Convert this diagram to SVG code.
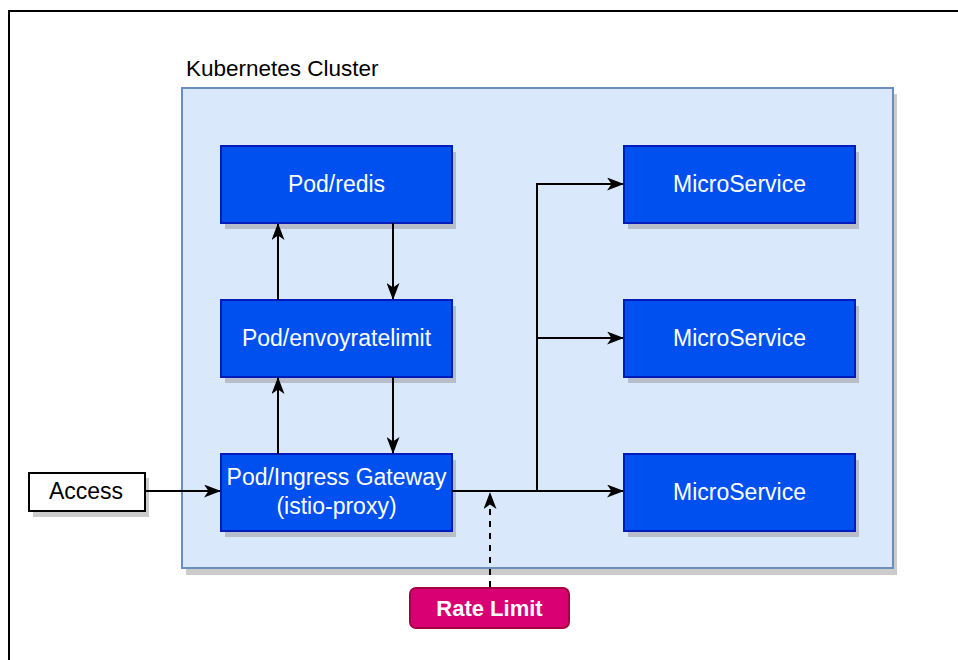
<svg xmlns="http://www.w3.org/2000/svg" width="958" height="660" viewBox="0 0 958 660">
<defs>
<style>
text{font-family:"Liberation Sans",Arial,sans-serif;font-size:23px;text-anchor:middle}
.box{fill:#0050ef;stroke:#001dbc;stroke-width:2}
.shadow{fill:#8c8c8c;opacity:0.45}
.wt{fill:#ffffff}
.conn{fill:none;stroke:#000;stroke-width:2}
</style>
<marker id="arr" viewBox="0 0 17 13" refX="16" refY="6.5" markerWidth="17" markerHeight="13" markerUnits="userSpaceOnUse" orient="auto">
<path d="M0,0 L17,6.5 L0,13 L4.5,6.5 Z" fill="#000"/>
</marker>
</defs>
<rect width="958" height="660" fill="#fff"/>
<rect x="9" y="11" width="1000" height="700" fill="none" stroke="#000" stroke-width="2"/>
<g id="cluster">
<rect x="186" y="94" width="711" height="481" class="shadow"/>
<rect x="182" y="88" width="711" height="480" fill="#dae8fc" stroke="#6c8ebf" stroke-width="2"/>
<text x="186" y="76" style="text-anchor:start;font-size:22.5px">Kubernetes Cluster</text>
</g>
<g id="redis">
<rect x="225" y="152" width="231" height="77" class="shadow"/>
<rect x="221" y="146" width="231" height="77" class="box"/>
<text x="336.5" y="192" class="wt">Pod/redis</text>
</g>
<g id="envoy">
<rect x="225" y="306" width="231" height="77" class="shadow"/>
<rect x="221" y="300" width="231" height="77" class="box"/>
<text x="336.5" y="346" class="wt">Pod/envoyratelimit</text>
</g>
<g id="ingress">
<rect x="225" y="460" width="231" height="77" class="shadow"/>
<rect x="221" y="454" width="231" height="77" class="box"/>
<text x="336.5" y="485" class="wt">Pod/Ingress Gateway</text>
<text x="336.5" y="514" class="wt">(istio-proxy)</text>
</g>
<g id="ms1">
<rect x="628" y="152" width="231" height="77" class="shadow"/>
<rect x="624" y="146" width="231" height="77" class="box"/>
<text x="739.5" y="192" class="wt">MicroService</text>
</g>
<g id="ms2">
<rect x="628" y="306" width="231" height="77" class="shadow"/>
<rect x="624" y="300" width="231" height="77" class="box"/>
<text x="739.5" y="346" class="wt">MicroService</text>
</g>
<g id="ms3">
<rect x="628" y="460" width="231" height="77" class="shadow"/>
<rect x="624" y="454" width="231" height="77" class="box"/>
<text x="739.5" y="499.5" class="wt">MicroService</text>
</g>
<g id="access">
<rect x="33" y="478" width="116" height="39" class="shadow"/>
<rect x="29" y="473" width="116" height="38" fill="#fff" stroke="#000" stroke-width="2"/>
<text x="86" y="499">Access</text>
</g>
<g id="ratelimit">
<rect x="410" y="588" width="159" height="40" rx="6" fill="#d80073" stroke="#a50040" stroke-width="2"/>
<text x="489.5" y="616" class="wt" style="font-weight:bold;font-size:22px">Rate Limit</text>
</g>
<g id="connectors">
<path class="conn" d="M145,491 L220,491" marker-end="url(#arr)"/>
<path class="conn" d="M278,454 L278,378" marker-end="url(#arr)"/>
<path class="conn" d="M393,377 L393,453" marker-end="url(#arr)"/>
<path class="conn" d="M278,300 L278,224" marker-end="url(#arr)"/>
<path class="conn" d="M393,223 L393,299" marker-end="url(#arr)"/>
<path class="conn" d="M452,491 L537,491 L537,184 L623,184" marker-end="url(#arr)"/>
<path class="conn" d="M537,338 L623,338" marker-end="url(#arr)"/>
<path class="conn" d="M537,491 L623,491" marker-end="url(#arr)"/>
<path class="conn" d="M490,587 L490,493" stroke-dasharray="6,6" marker-end="url(#arr)"/>
</g>
</svg>
